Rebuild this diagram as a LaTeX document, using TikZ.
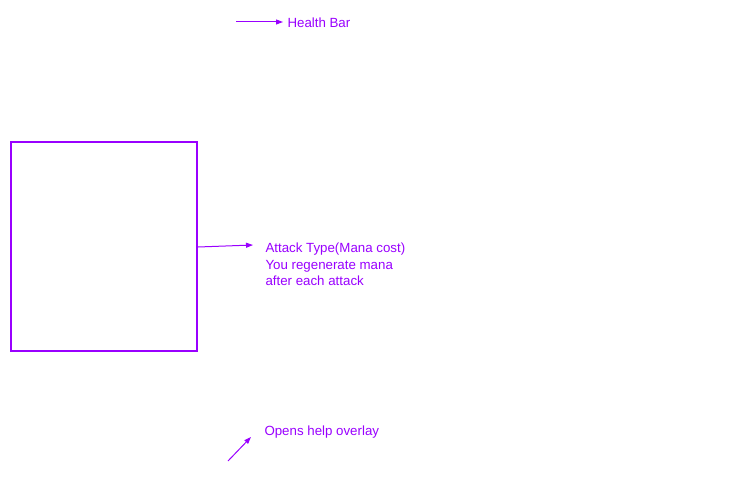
\documentclass[tikz,border=0pt]{standalone}
\usepackage{fontspec}
\setmainfont{Liberation Sans}
\usepackage{tikz}
\usetikzlibrary{arrows.meta}
\definecolor{uipurple}{HTML}{9900FF}

\begin{document}
\begin{tikzpicture}[x=1pt,y=-1pt,-{Triangle[length=7pt,width=5pt]},uipurple,line width=1pt,
    note node/.style={anchor=west,inner sep=0pt,text=uipurple,align=left,font=\fontsize{13.3}{16.5}\selectfont},
    panel node/.style={draw=uipurple,line width=2pt,minimum width=186pt,minimum height=209pt,inner sep=0pt}]
    \useasboundingbox (0,0) rectangle (749,500);
    \node[panel node] (panel) at (104,246.5) {};
    \node[note node] (health) at (287,23) {Health Bar};
    \node[note node] (attack) at (265,264.5) {Attack Type(Mana cost)\\You regenerate mana\\after each attack};
    \node[note node] (help) at (264,432) {Opens help overlay};
    \coordinate (h0) at (236,22);
    \coordinate (a0) at (253,245);
    \coordinate (p0) at (228,461);
    \coordinate (p1) at (251,437);

    \path
    (h0) edge (283,22)
    (panel.east |- 0,247) edge (a0)
    (p0) edge (p1);
  \end{tikzpicture}
\end{document}
